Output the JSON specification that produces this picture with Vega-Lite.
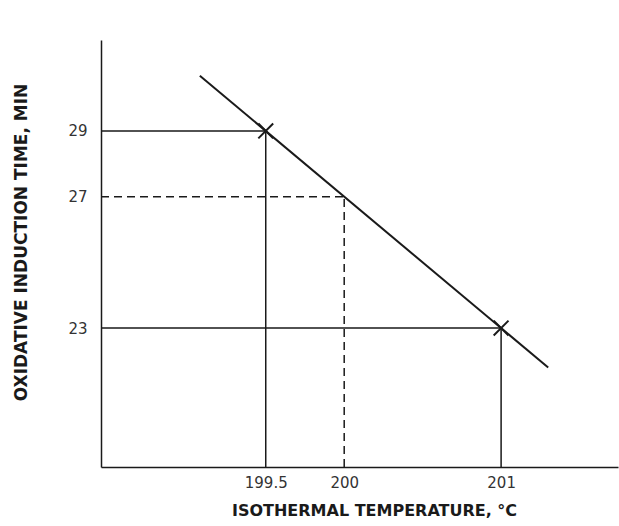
{
  "$schema": "https://vega.github.io/schema/vega-lite/v6.json",
  "width": 517,
  "height": 427,
  "autosize": {"type": "none"},
  "padding": {"left": 101, "top": 40, "right": 1, "bottom": 59},
  "background": "white",
  "config": {
    "view": {"stroke": null},
    "axis": {"grid": false, "ticks": false, "domainColor": "#1a1a1a", "domainWidth": 1.5, "labelFont": "DejaVu Sans", "labelFontSize": 15, "labelColor": "#333333", "titleFont": "DejaVu Sans", "titleFontWeight": "bold", "titleColor": "#1a1a1a"}
  },
  "layer": [
    {
      "data": {"values": [
        {"x1": 198.45, "x2": 199.5, "y1": 29, "y2": 29, "style": "solid"},
        {"x1": 199.5, "x2": 199.5, "y1": 18.77, "y2": 29, "style": "solid"},
        {"x1": 198.45, "x2": 201, "y1": 23, "y2": 23, "style": "solid"},
        {"x1": 201, "x2": 201, "y1": 18.77, "y2": 23, "style": "solid"},
        {"x1": 198.45, "x2": 200, "y1": 27, "y2": 27, "style": "dashed"},
        {"x1": 200, "x2": 200, "y1": 18.77, "y2": 27, "style": "dashed"}
      ]},
      "mark": {"type": "rule", "color": "#1a1a1a", "strokeWidth": 1.5},
      "encoding": {
        "x": {"field": "x1", "type": "quantitative", "scale": {"domain": [198.45, 201.745], "nice": false, "zero": false},
          "axis": {"values": [199.5, 200, 201], "labelPadding": 8, "labelExpr": "datum.value == 199.5 ? '199.5' : format(datum.value, 'd')", "title": "ISOTHERMAL TEMPERATURE, °C", "titleFontSize": 16, "titleX": 273, "titleY": 35, "titleBaseline": "top", "titleAnchor": "middle", "titleAlign": "center"}},
        "x2": {"field": "x2"},
        "y": {"field": "y1", "type": "quantitative", "scale": {"domain": [18.77, 31.77], "nice": false, "zero": false},
          "axis": {"values": [23, 27, 29], "labelPadding": 14, "title": "OXIDATIVE INDUCTION TIME, MIN", "titleFontSize": 17, "titleX": -80, "titleY": 202, "titleAngle": -90, "titleAlign": "center", "titleBaseline": "middle"}},
        "y2": {"field": "y2"},
        "strokeDash": {"field": "style", "type": "nominal", "scale": {"domain": ["solid", "dashed"], "range": [[1, 0], [8, 5]]}, "legend": null}
      }
    },
    {
      "data": {"values": [
        {"x": 199.08, "y": 30.68},
        {"x": 201.3, "y": 21.8}
      ]},
      "mark": {"type": "line", "color": "#1a1a1a", "strokeWidth": 2},
      "encoding": {
        "x": {"field": "x", "type": "quantitative"},
        "y": {"field": "y", "type": "quantitative"}
      }
    },
    {
      "data": {"values": [
        {"x": 199.5, "y": 29},
        {"x": 201, "y": 23}
      ]},
      "mark": {"type": "point", "shape": "M-1,-1L1,1M1,-1L-1,1", "size": 220, "filled": false, "stroke": "#1a1a1a", "strokeWidth": 2, "opacity": 1},
      "encoding": {
        "x": {"field": "x", "type": "quantitative"},
        "y": {"field": "y", "type": "quantitative"}
      }
    }
  ]
}
